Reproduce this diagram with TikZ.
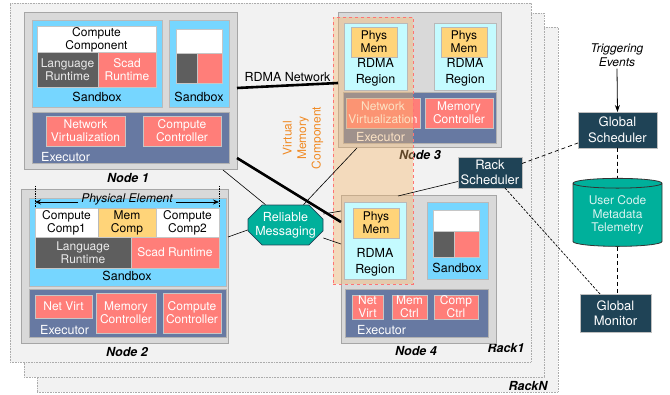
\documentclass[tikz,border=0pt]{standalone}
\usepackage{fontspec}
\setmainfont{TeX Gyre Heros}
\usetikzlibrary{arrows.meta, calc, positioning, shapes.misc, shapes.geometric}
\definecolor{rackbg}{HTML}{F2F2F2}
\definecolor{nodegray}{HTML}{D9D9D9}
\definecolor{nodeedge}{HTML}{A6A6A6}
\definecolor{sbblue}{HTML}{76D6FF}
\definecolor{darkrt}{HTML}{5E5E5E}
\definecolor{scadred}{HTML}{FF7E79}
\definecolor{memyellow}{HTML}{FFD479}
\definecolor{execblue}{HTML}{6779A2}
\definecolor{rdmacyan}{HTML}{C4FBFF}
\definecolor{msgteal}{HTML}{00B09B}
\definecolor{schednavy}{HTML}{1F4356}
\definecolor{vmorange}{HTML}{F5B66B}
\definecolor{vmtext}{HTML}{F08A24}
\newcommand{\blk}[7]{
    \node[#2, minimum width={(#5)-(#3)}, minimum height={(#6)-(#4)}] (#1) at ({((#3)+(#5))/2}, {((#4)+(#6))/2}) {#7};
}
\newcommand{\miniapp}[7]{
    \blk{#1-w}{whitebox}{#2}{#3}{#6}{#5}{}
    \blk{#1-d}{darkbox}{#2}{#5}{#4}{#7}{}
    \blk{#1-r}{redbox}{#4}{#5}{#6}{#7}{}
}
\tikzset{
    blkbase/.style={rectangle, inner sep=0.5pt, outer sep=0pt, align=center, font=\fontsize{12}{13}\selectfont},
    rack/.style={blkbase, draw=gray!65, densely dotted, fill=rackbg, line width=0.6pt},
    nodebox/.style={blkbase, draw=nodeedge, fill=nodegray, line width=1pt},
    sandbox/.style={blkbase, draw=gray!55, fill=sbblue, line width=0.8pt},
    whitebox/.style={blkbase, draw=gray!45, fill=white, line width=0.6pt},
    darkbox/.style={blkbase, draw=gray!45, fill=darkrt, text=white!92!black, line width=0.6pt},
    redbox/.style={blkbase, draw=gray!45, fill=scadred, text=white, line width=0.6pt},
    yellowbox/.style={blkbase, draw=gray!55, fill=memyellow, line width=0.6pt},
    execbox/.style={blkbase, draw=gray!60, fill=execblue, line width=0.8pt},
    rdmabox/.style={blkbase, draw=gray!55, fill=rdmacyan, line width=0.8pt},
    vmregion/.style={blkbase, fill=vmorange, fill opacity=0.4, draw=red!55, dashed, line width=0.7pt},
    sched/.style={blkbase, draw=gray!50, fill=schednavy, text=white, line width=0.8pt, font=\fontsize{13}{15.5}\selectfont},
    rmsg/.style={chamfered rectangle, chamfered rectangle xsep=7pt, chamfered rectangle ysep=7pt,
        draw=schednavy, fill=msgteal, text=white, inner sep=0pt, line width=0.8pt, align=center,
        minimum width=75pt, minimum height=36pt, font=\fontsize{12.5}{14}\selectfont},
    db/.style={cylinder, shape border rotate=90, aspect=0.17, draw=black!80, fill=msgteal, line width=0.8pt,
        minimum width=89pt, minimum height=68pt, inner sep=0pt, align=center, text=white!85!msgteal,
        font=\fontsize{12}{13.5}\selectfont},
    lbl/.style={font=\fontsize{12.5}{14}\selectfont, inner sep=0pt},
    exlbl/.style={anchor=west, text=white, font=\fontsize{12.5}{14}\selectfont, inner sep=0pt},
    rdmalbl/.style={align=center, font=\fontsize{12.5}{16}\selectfont, inner sep=0pt},
    nodelbl/.style={font=\fontsize{12.5}{14}\selectfont\bfseries\itshape, inner sep=0pt},
    vmlbl/.style={align=center, text=vmtext, font=\fontsize{12}{14.5}\selectfont, inner sep=0pt},
    pelbl/.style={font=\fontsize{12}{13}\selectfont\itshape, inner sep=3pt},
    trig/.style={align=center, font=\fontsize{12}{14}\selectfont\itshape, inner sep=2pt},
    pedge/.style={densely dotted, line width=0.7pt},
    pearrow/.style={-{Stealth[length=6pt, width=5pt]}, line width=0.8pt},
    rdma/.style={line width=2.6pt},
    link/.style={line width=0.6pt},
    dashlink/.style={dashed, dash pattern=on 4pt off 3pt, line width=0.7pt},
    dotlink/.style={dash pattern=on 2.5pt off 1.5pt, line width=0.7pt},
    trigarrow/.style={-{Stealth[length=7pt, width=5pt]}, line width=0.8pt},
}
\begin{document}
\begin{tikzpicture}[x=1pt, y=-1pt]
    \useasboundingbox (0,0) rectangle (670,395);
    % racks
    \blk{rackN}{rack}{37}{27}{558}{392}{}
    \blk{rack2}{rack}{24}{13}{544}{377}{}
    \blk{rack1}{rack}{10}{3}{531}{362}{}
    \node[nodelbl] at (528,386) {RackN};
    \node[nodelbl] at (506,348) {Rack1};

    % node 1
    \blk{n1}{nodebox}{24}{13}{237}{170}{}
    \blk{n1-sb}{sandbox}{32}{20}{162}{107}{}
    \blk{n1-cc}{whitebox}{37}{27}{156}{52}{Compute\\Component}
    \blk{n1-lr}{darkbox}{37}{52}{98}{87}{Language\\Runtime}
    \blk{n1-sr}{redbox}{98}{52}{156}{87}{Scad\\Runtime}
    \node[lbl] at (97,97) {Sandbox};
    \blk{n1-sb2}{sandbox}{169}{20}{229}{107}{}
    \miniapp{n1-app}{176}{29}{197}{53}{222}{83}
    \node[lbl] at (199,97) {Sandbox};
    \blk{n1-ex}{execbox}{32}{112}{229}{163}{}
    \blk{n1-nv}{redbox}{46}{116}{125}{146}{Network\\Virtualization}
    \blk{n1-ctl}{redbox}{143}{116}{221}{146}{Compute\\Controller}
    \node[exlbl] at (41,157) {Executor};
    \node[nodelbl] at (128,178) {Node 1};

    % node 2
    \blk{n2}{nodebox}{21}{190}{228}{344}{}
    \blk{n2-sb}{sandbox}{29}{198}{226}{286}{}
    \blk{n2-c1}{whitebox}{35}{208}{98}{237}{Compute\\Comp1}
    \blk{n2-mc}{yellowbox}{98}{208}{156}{237}{Mem\\Comp}
    \blk{n2-c2}{whitebox}{156}{208}{219}{237}{Compute\\Comp2}
    \blk{n2-lr}{darkbox}{35}{237}{131}{268}{Language\\Runtime}
    \blk{n2-sr}{redbox}{131}{237}{219}{268}{Scad Runtime}
    \node[lbl] at (127,276) {Sandbox};
    \coordinate (pe-lt) at (35,186);
    \coordinate (pe-rt) at (219,186);
    \coordinate (pe-l) at (35,202);
    \coordinate (pe-r) at (219,202);
    \draw[pedge] (pe-lt) -- (n2-c1.north west);
    \draw[pedge] (pe-rt) -- (n2-c2.north east);
    \node[pelbl] (pe) at (127,199) {Physical Element};
    \draw[pearrow] (pe.west |- pe-l) -- (pe-l);
    \draw[pearrow] (pe.east |- pe-r) -- (pe-r);
    \blk{n2-ex}{execbox}{29}{289}{226}{337}{}
    \blk{n2-nv}{redbox}{35}{295}{92}{318}{Net Virt}
    \blk{n2-mem}{redbox}{96}{293}{156}{333}{Memory\\Controller}
    \blk{n2-ctl}{redbox}{163}{293}{221}{333}{Compute\\Controller}
    \node[exlbl] at (40,330) {Executor};
    \node[nodelbl] at (127,352) {Node 2};

    % node 3
    \blk{n3}{nodebox}{338}{13}{501}{148}{}
    \blk{n3-ex}{execbox}{343}{92}{496}{143}{}
    \blk{n3-nv}{redbox}{346}{98}{420}{128}{Network\\Virtualization}
    \blk{n3-mc}{redbox}{425}{98}{493}{128}{Memory\\Controller}
    \node[exlbl] at (356,137) {Executor};
    \node[nodelbl] at (420,155) {Node 3};

    % node 4
    \blk{n4}{nodebox}{341}{196}{496}{344}{}
    \blk{n4-sb}{sandbox}{427}{202}{488}{279}{}
    \miniapp{n4-app}{433}{210}{454}{231}{479}{257}
    \node[lbl] at (457,268) {Sandbox};
    \blk{n4-ex}{execbox}{345}{289}{488}{337}{}
    \blk{n4-nv}{redbox}{352}{295}{383}{319}{Net\\Virt}
    \blk{n4-mc}{redbox}{392}{295}{427}{319}{Mem\\Ctrl}
    \blk{n4-cc}{redbox}{434}{295}{478}{319}{Comp\\Ctrl}
    \node[exlbl] at (357,330) {Executor};
    \node[nodelbl] at (416,351) {Node 4};

    % virtual memory component
    \blk{vm}{vmregion}{333}{17}{413}{284}{}
    \node[vmlbl, rotate=90] (vm-t) at (303,138) {Virtual\\Memory\\Component};

    % rdma regions
    \blk{n3-r1}{rdmabox}{344}{23}{407}{90}{}
    \blk{n3-pm1}{yellowbox}{351}{27}{397}{57}{Phys\\Mem}
    \node[rdmalbl] at (375.5,72) {RDMA\\Region};
    \blk{n3-r2}{rdmabox}{434}{23}{496}{90}{}
    \blk{n3-pm2}{yellowbox}{441}{27}{487}{57}{Phys\\Mem}
    \node[rdmalbl] at (465,72) {RDMA\\Region};
    \blk{n4-r}{rdmabox}{344}{202}{406}{279}{}
    \blk{n4-pm}{yellowbox}{353}{208}{399}{238}{Phys\\Mem}
    \node[rdmalbl] at (375,262) {RDMA\\Region};

    % control plane
    \node[rmsg] (rm) at (285.5,225) {Reliable\\Messaging};
    \blk{rs}{sched}{458}{157}{522}{188}{Rack\\Scheduler}
    \blk{gs}{sched}{578}{112}{657}{148}{Global\\Scheduler}
    \blk{gm}{sched}{580}{294}{651}{332}{Global\\Monitor}
    \node[db] (db) at (617.5,215) {User Code\\Metadata\\Telemetry};
    \node[trig] (te) at (617,55) {Triggering\\Events};

    % connectors
    \draw[rdma] ([yshift=3.5pt]n1.east) -- node[above=3pt, lbl]{RDMA Network} ([yshift=-2.5pt]n3.west);
    \draw[rdma] ([yshift=12pt]n1.south east) -- ([yshift=-26pt]n4.north west);
    \draw[link] ([xshift=-14pt]n1.south east) -- ([xshift=-20pt]rm.north);
    \draw[link] ([xshift=19pt]n3.south west) -- ([xshift=18pt]rm.north);
    \draw[link] ([yshift=-5pt]rm.west) -- ([yshift=30pt]n2.east);
    \draw[link] ([yshift=11pt]rm.east) -- ([yshift=-15pt]n4.north west);
    \draw[link] ([yshift=-13pt]rm.east) -- ([yshift=-48pt]n4.north west);
    \draw[link] ([yshift=-9pt]rs.west) -- ([xshift=57pt]n4.north west);
    \draw[dashlink] ([yshift=9pt]rs.east) -- ([yshift=5pt]gs.south west);
    \draw[dashlink] (gs.south) -- (db.north);
    \draw[dashlink] (db.south) -- (db.south |- gm.north);
    \draw[dotlink] ([xshift=15pt]rs.south) -- ([xshift=20pt]gm.north west);
    \draw[trigarrow] (te.south) -- (gs.north);
\end{tikzpicture}
\end{document}
